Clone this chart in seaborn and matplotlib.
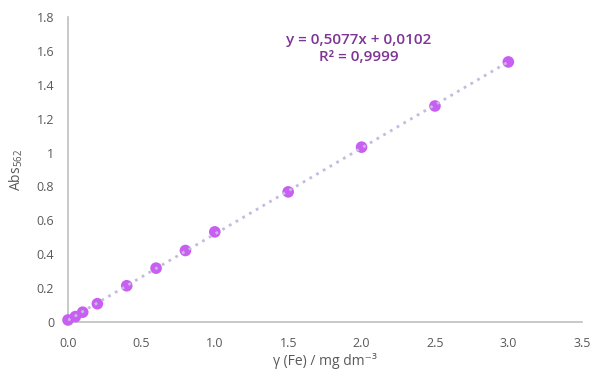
import numpy as np
import pandas as pd
import matplotlib
matplotlib.use("Agg")
import matplotlib.pyplot as plt
import seaborn as sns

# calibration data
conc = [0.0, 0.05, 0.1, 0.2, 0.4, 0.6, 0.8, 1.0, 1.5, 2.0, 2.5, 3.0]
absorb = [0.012, 0.032, 0.058, 0.108, 0.214, 0.318, 0.422, 0.532, 0.768, 1.032, 1.275, 1.535]

xticks = [0.0, 0.5, 1.0, 1.5, 2.0, 2.5, 3.0, 3.5]
xtick_labels = ["0.0", "0.5", "1.0", "1.5", "2.0", "2.5", "3.0", "3.5"]
yticks = [0, 0.2, 0.4, 0.6, 0.8, 1.0, 1.2, 1.4, 1.6, 1.8]
ytick_labels = ["0", "0.2", "0.4", "0.6", "0.8", "1", "1.2", "1.4", "1.6", "1.8"]

eq_text = "y = 0,5077x + 0,0102"
r2_text = "R² = 0,9999"

df = pd.DataFrame({"conc": conc, "abs": absorb})

sns.set_style("white")
plt.rcParams["font.family"] = ["Open Sans", "DejaVu Sans"]
plt.rcParams["mathtext.fontset"] = "custom"
plt.rcParams["mathtext.rm"] = "Open Sans"
plt.rcParams["mathtext.it"] = "Open Sans"

fig = plt.figure(figsize=(5.93, 3.74), dpi=100)
ax = fig.add_axes([0.1147, 0.139, 0.8663, 0.8155])

sns.scatterplot(data=df, x="conc", y="abs", ax=ax, color="#c85ef2",
                s=70, edgecolor="none", zorder=4, clip_on=False)
# linear trendline through the points
sns.regplot(data=df, x="conc", y="abs", ax=ax, ci=None, scatter=False,
            line_kws=dict(color="#c4bcdf", lw=2, ls=(0, (1, 1.8)), zorder=5))

ax.set_xlim(0, 3.5)
ax.set_ylim(0, 1.8)
ax.set_xticks(xticks)
ax.set_xticklabels(xtick_labels)
ax.set_yticks(yticks)
ax.set_yticklabels(ytick_labels)

gray = "#bfbfbf"
for side in ["top", "right"]:
    ax.spines[side].set_visible(False)
for side in ["left", "bottom"]:
    ax.spines[side].set_color(gray)
    ax.spines[side].set_linewidth(1.2)
ax.tick_params(axis="both", direction="in", length=4, width=1, color=gray,
               labelcolor="#595959", labelsize=9)
ax.tick_params(axis="x", pad=11)
ax.tick_params(axis="y", pad=10)

ax.set_xlabel("γ (Fe) / mg dm⁻³", color="#595959", fontsize=10, labelpad=2)
ax.set_ylabel("Abs$_{562}$", color="#595959", fontsize=10, labelpad=8)

ax.text(1.98, 1.665, eq_text, ha="center", va="center", color="#7e3594",
        fontsize=11, fontweight="semibold")
ax.text(1.98, 1.565, r2_text, ha="center", va="center", color="#7e3594",
        fontsize=11, fontweight="semibold")

fig.savefig("out.png", dpi=100)
